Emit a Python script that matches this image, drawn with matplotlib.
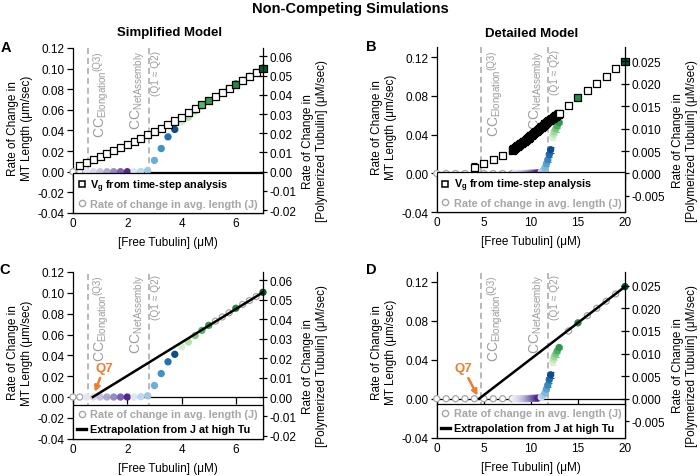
import matplotlib.pyplot as plt
from matplotlib.lines import Line2D
from matplotlib.ticker import FormatStrFormatter

plt.rcParams['font.family'] = ['Liberation Sans', 'DejaVu Sans']
plt.rcParams['mathtext.fontset'] = 'custom'
plt.rcParams['mathtext.rm'] = 'Liberation Sans'
plt.rcParams['mathtext.it'] = 'Liberation Sans:italic'
plt.rcParams['mathtext.bf'] = 'Liberation Sans:bold'
plt.rcParams['axes.linewidth'] = 0.9

# ---------------- simplified model (panels A and C) ----------------
simp_vg_tu = [0.25, 0.5, 0.75, 1.0, 1.25, 1.5, 1.75, 2.0, 2.25, 2.5, 2.75, 3.0, 3.25, 3.5,
              3.75, 4.0, 4.25, 4.5, 4.75, 5.0, 5.25, 5.5, 5.75, 6.0, 6.25, 6.5, 6.75, 7.0]
simp_vg = [0.0060, 0.0088, 0.0116, 0.0145, 0.0174, 0.0203, 0.0233, 0.0263, 0.0294, 0.0325,
           0.0357, 0.0390, 0.0423, 0.0457, 0.0492, 0.0530, 0.0570, 0.0610, 0.0650, 0.0690,
           0.0730, 0.0770, 0.0810, 0.0850, 0.0888, 0.0926, 0.0965, 0.1005]
simp_j_tu = [0.0, 0.25, 0.5, 0.75, 1.0, 1.25, 1.5, 1.75, 2.0, 2.25, 2.5, 2.75, 3.0, 3.25, 3.5,
             3.75, 4.0, 4.25, 4.5, 4.75, 5.0, 5.25, 5.5, 5.75, 6.0, 6.25, 6.5, 6.75, 7.0]
simp_j = [0.0, 0.0, 0.0, 0.0, 0.0, 0.0, 0.0, 0.0, 0.0, 0.0, 0.0003, 0.0012, 0.0110, 0.0225,
          0.0338, 0.0410, 0.0482, 0.0528, 0.0590, 0.0640, 0.0688, 0.0728, 0.0768, 0.0808,
          0.0852, 0.0888, 0.0926, 0.0964, 0.1005]
simp_cc = [0.55, 2.8]          # CC elongation (Q3), CC net assembly (Q1 = Q2)
simp_ext_tu = [0.73, 7.0]      # extrapolation from J at high tubulin
simp_ext = [0.0, 0.1005]
simp_q7 = 0.73

# ---------------- detailed model (panels B and D) ----------------
det_vg_tu = [4, 5, 6, 7,
             8.0, 8.1, 8.2, 8.3, 8.4, 8.5, 8.6, 8.7, 8.8, 8.9,
             9.0, 9.1, 9.2, 9.3, 9.4, 9.5, 9.6, 9.7, 9.8, 9.9,
             10.0, 10.1, 10.2, 10.3, 10.4, 10.5, 10.6, 10.7, 10.8, 10.9,
             11.0, 11.1, 11.2, 11.3, 11.4, 11.5, 11.6, 11.7, 11.8, 11.9,
             12.0, 12.1, 12.2, 12.3, 12.4, 12.5, 12.6, 12.7, 12.8, 12.9,
             13.0, 14, 15, 16, 17, 18, 19, 20]
det_vg = [0.0065, 0.0100, 0.0140, 0.0185,
          0.0240, 0.0247, 0.0254, 0.0261, 0.0268, 0.0275, 0.0283, 0.0290, 0.0297, 0.0305,
          0.0312, 0.0319, 0.0327, 0.0334, 0.0342, 0.0349, 0.0357, 0.0364, 0.0372, 0.0379,
          0.0387, 0.0395, 0.0403, 0.0412, 0.0420, 0.0428, 0.0437, 0.0445, 0.0454, 0.0462,
          0.0471, 0.0479, 0.0487, 0.0495, 0.0503, 0.0511, 0.0519, 0.0527, 0.0534, 0.0542,
          0.0550, 0.0557, 0.0564, 0.0571, 0.0578, 0.0585, 0.0592, 0.0599, 0.0606, 0.0613,
          0.0620, 0.0700, 0.0780, 0.0855, 0.0930, 0.1003, 0.1078, 0.1150]
det_vg_err_tu = [4, 5, 6, 7]
det_vg_err = [0.0040, 0.0020, 0.0012, 0.0010]
det_j_tu = [0, 1, 2, 3, 4, 5, 6, 7, 8, 8.25, 8.5, 8.75, 9.0, 9.25, 9.5, 9.75, 10.0, 10.25,
            10.5, 10.75, 11.1, 11.3, 11.5, 11.65, 11.8, 11.95, 12.1, 12.3, 12.4, 12.5, 12.65,
            12.8, 13.0, 14, 15, 16, 17, 18, 19, 20]
det_j = [0.0, 0.0, 0.0, 0.0, 0.0, 0.0, 0.0, 0.0, 0.0, 0.0, 0.0, 0.0, 0.0, 0.0, 0.0, 0.0002,
         0.0003, 0.0004, 0.0005, 0.0006, 0.0015, 0.0030, 0.0060, 0.0100, 0.0140, 0.0195,
         0.0245, 0.0380, 0.0405, 0.0430, 0.0460, 0.0490, 0.0525, 0.0695, 0.0778, 0.0852,
         0.0928, 0.1000, 0.1075, 0.1150]
det_j_err_tu = [9.0, 9.5, 11.5, 11.65, 11.8, 11.95, 12.1, 12.3, 12.4, 12.5, 12.65, 12.8, 13.0]
det_j_err = [0.0025, 0.0025, 0.0020, 0.0020, 0.0025, 0.0030, 0.0030, 0.0030, 0.0040, 0.0030,
             0.0030, 0.0020, 0.0020]
det_cc = [4.75, 11.85]
det_ext_tu = [4.5, 20.0]
det_ext = [0.0, 0.1150]
det_q7 = 4.5

# ---------------- axis ticks ----------------
simp_xticks = [0, 2, 4, 6]
det_xticks = [0, 5, 10, 15, 20]
simp_yticks = [-0.04, -0.02, 0.0, 0.02, 0.04, 0.06, 0.08, 0.10, 0.12]
simp_rticks = [-0.02, -0.01, 0.0, 0.01, 0.02, 0.03, 0.04, 0.05, 0.06]
det_yticks = [-0.04, 0.0, 0.04, 0.08, 0.12]
det_rticks = [-0.005, 0.0, 0.005, 0.010, 0.015, 0.020, 0.025]

# ---------------- styles ----------------
GRAY = '#a6a6a6'
CCGRAY = '#9c9c9c'
ORANGE = '#ed7d31'
OPEN = 'open'
purples7 = ['#e6e5f1', '#d9d8ea', '#c5c3e0', '#aea9d2', '#958bc2', '#7a62ac', '#57288c']
blues7 = ['#dae8f5', '#bfd8ed', '#9ecae1', '#6caed6', '#4292c6', '#2270b4', '#0b4e8e']
greens5 = ['#d6eecf', '#b8e0ae', '#86cb82', '#57b567', '#35994f']
purples11 = ['#efeef6', '#e6e5f1', '#dcdbec', '#d0cfe5', '#c2c0dd', '#b1add4', '#9f98c8',
             '#8b7fbb', '#7763ab', '#64449d', '#54278f']
blues7b = ['#cfe1f2', '#a9cfe5', '#80b9da', '#5aa1cf', '#3a87bf', '#1f6aad', '#0b4e8e']
greens6 = ['#d8efd2', '#c0e5b8', '#a1d79a', '#79c57a', '#4daf61', '#2f974e']
G_MID = '#238b45'
G_DARK = '#005a2c'

simp_j_colors = ([OPEN] * 2 + purples7 + blues7 + greens5 + [OPEN] * 3 + [G_MID]
                 + [OPEN] * 3 + [G_DARK])
det_j_colors = ([OPEN] * 9 + purples11 + blues7b + greens6 + [OPEN, G_MID]
                + [OPEN] * 4 + [G_DARK])
simp_vg_fill = {4.75: '#57b567', 5.0: '#35994f', 6.0: G_MID, 7.0: G_DARK}
det_vg_fill = {15: G_MID, 20: G_DARK}

fig = plt.figure(figsize=(7, 4.77), dpi=100)


def make_panel(rect, xmax, xticks, ylim, yticks, yfmt, ratio, rticks, rfmt, rlab_x):
    ax = fig.add_axes(rect)
    ax.set_xlim(0, xmax)
    ax.set_ylim(ylim)
    ax.set_xticks(xticks)
    ax.set_yticks(yticks)
    ax.yaxis.set_major_formatter(FormatStrFormatter(yfmt))
    ax.spines['top'].set_visible(False)
    ax.spines['right'].set_visible(False)
    ax.spines['bottom'].set_position(('data', 0))
    ax.tick_params(axis='x', direction='out', length=5, width=0.9, labelbottom=False)
    ax.tick_params(axis='y', direction='out', length=4, width=0.9, labelsize=8.5, pad=2)
    ax.set_ylabel('Rate of Change in\nMT Length (μm/sec)', fontsize=8.5)
    ax.yaxis.set_label_coords(-0.21, 0.52)

    ax2 = ax.twinx()
    ax2.set_ylim(ylim[0] * ratio, ylim[1] * ratio)
    ax2.set_yticks(rticks)
    ax2.yaxis.set_major_formatter(FormatStrFormatter(rfmt))
    ax2.spines['top'].set_visible(False)
    ax2.spines['left'].set_visible(False)
    ax2.tick_params(axis='y', direction='inout', length=6, width=0.9, labelsize=8.5, pad=2)
    ax2.set_ylabel('Rate of Change in\n[Polymerized Tubulin] (μM/sec)', fontsize=8.5)
    ax2.yaxis.set_label_coords(rlab_x, 0.44)
    ax2.xaxis.set_visible(True)
    ax2.tick_params(axis='x', length=0, labelbottom=True, labelsize=8.5, pad=3)
    ax2.set_xlabel('[Free Tubulin] (μM)', fontsize=8.5, labelpad=5)
    return ax, ax2


def draw_j(ax, tu, val, colors):
    faces = ['white' if c == OPEN else c for c in colors]
    edges = [GRAY if c == OPEN else c for c in colors]
    ax.scatter(tu, val, s=19, c=faces, edgecolors=edges, linewidths=0.9,
               zorder=3, clip_on=False)


def draw_vg(ax, tu, val, fill):
    faces = [fill.get(t, 'white') for t in tu]
    ax.scatter(tu, val, marker='s', s=26, c=faces, edgecolors='black',
               linewidths=0.9, zorder=4, clip_on=False)


def cc_lines(ax, xs):
    x_el, x_net = xs
    for x in xs:
        ax.axvline(x, color=GRAY, ls=(0, (4, 2.5)), lw=1.1, zorder=1)
    q3 = ax.annotate('(Q3)', xy=(x_el, 1), xycoords=('data', 'axes fraction'),
                     xytext=(3.5, -1.5), textcoords='offset points', rotation=90,
                     ha='left', va='top', fontsize=7, color=CCGRAY)
    ax.annotate(r'CC$_{\mathrm{Elongation}}$', xy=(0, 0), xycoords=q3,
                xytext=(0, 0), textcoords='offset points', rotation=90,
                ha='left', va='top', fontsize=10, color=CCGRAY)
    ax.annotate(r'CC$_{\mathrm{NetAssembly}}$', xy=(x_net, 1),
                xycoords=('data', 'axes fraction'), xytext=(-1.5, -1.5),
                textcoords='offset points', rotation=90, ha='right', va='top',
                fontsize=10, color=CCGRAY)
    ax.annotate('(Q1 ≈ Q2)', xy=(x_net, 1), xycoords=('data', 'axes fraction'),
                xytext=(1.5, -1.5), textcoords='offset points', rotation=90,
                ha='left', va='top', fontsize=7.3, color=CCGRAY)


def add_legend(ax2, handles, labels, colors):
    leg = ax2.legend(handles, labels, loc='lower left', bbox_to_anchor=(0, 0, 1, 0.2),
                     mode='expand', borderaxespad=0, fancybox=False, edgecolor='black',
                     framealpha=1, prop={'size': 7.8, 'weight': 'bold'},
                     handlelength=0.8, handletextpad=0.35, borderpad=0.4,
                     labelspacing=0.45)
    leg.get_frame().set_linewidth(0.9)
    for t, c in zip(leg.get_texts(), colors):
        t.set_color(c)


def q7_arrow(ax, x, offset, shrink):
    ax.annotate('Q7', xy=(x, 0), xytext=offset, textcoords='offset points',
                ha='center', va='center', fontsize=9.5, weight='bold', color=ORANGE,
                arrowprops=dict(arrowstyle='-|>', color=ORANGE, lw=1.8,
                                mutation_scale=8, shrinkA=1, shrinkB=shrink),
                zorder=6)


h_vg = Line2D([], [], ls='none', marker='s', ms=4.5, mfc='none', mec='black', mew=1.1)
h_j = Line2D([], [], ls='none', marker='o', ms=4.5, mfc='white', mec=GRAY, mew=1.0)
h_ext = Line2D([], [], color='black', lw=2.4)
lab_vg = r'$\mathbf{V_g}$ from time-step analysis'
lab_j = 'Rate of change in avg. length (J)'
lab_ext = 'Extrapolation from J at high Tu'

simp_ratio = 0.536
det_ratio = 0.2158

# A
ax, ax2 = make_panel([0.1043, 0.5514, 0.2714, 0.3459], 7, simp_xticks, (-0.04, 0.12),
                     simp_yticks, '%.2f', simp_ratio, simp_rticks, '%.2f', 1.205)
cc_lines(ax, simp_cc)
draw_j(ax, simp_j_tu, simp_j, simp_j_colors)
draw_vg(ax, simp_vg_tu, simp_vg, simp_vg_fill)
add_legend(ax2, [h_vg, h_j], [lab_vg, lab_j], ['black', GRAY])

# B
ax, ax2 = make_panel([0.6239, 0.5528, 0.2690, 0.3459], 20, det_xticks, (-0.04, 0.13),
                     det_yticks, '%.2f', det_ratio, det_rticks, '%.3f', 1.25)
cc_lines(ax, det_cc)
for t, e in zip(det_j_err_tu, det_j_err):
    i = det_j_tu.index(t)
    c = det_j_colors[i]
    ax.errorbar(t, det_j[i], yerr=e, fmt='none', ecolor=GRAY if t < 11 else c,
                elinewidth=0.8, capsize=2, capthick=0.8, zorder=2.5)
draw_j(ax, det_j_tu, det_j, det_j_colors)
for t, e in zip(det_vg_err_tu, det_vg_err):
    ax.errorbar(t, det_vg[det_vg_tu.index(t)], yerr=e, fmt='none', ecolor='black',
                elinewidth=0.8, capsize=2, capthick=0.8, zorder=3.5)
draw_vg(ax, det_vg_tu, det_vg, det_vg_fill)
add_legend(ax2, [h_vg, h_j], [lab_vg, lab_j], ['black', GRAY])

# C
ax, ax2 = make_panel([0.1043, 0.0782, 0.2714, 0.3495], 7, simp_xticks, (-0.04, 0.12),
                     simp_yticks, '%.2f', simp_ratio, simp_rticks, '%.2f', 1.205)
cc_lines(ax, simp_cc)
draw_j(ax, simp_j_tu, simp_j, simp_j_colors)
ax.plot(simp_ext_tu, simp_ext, color='black', lw=1.8, zorder=5)
q7_arrow(ax, simp_q7, (8, 21), 4)
add_legend(ax2, [h_j, h_ext], [lab_j, lab_ext], [GRAY, 'black'])

# D
ax, ax2 = make_panel([0.6239, 0.0803, 0.2690, 0.3474], 20, det_xticks, (-0.04, 0.13),
                     det_yticks, '%.2f', det_ratio, det_rticks, '%.3f', 1.25)
cc_lines(ax, det_cc)
for t, e in zip(det_j_err_tu, det_j_err):
    i = det_j_tu.index(t)
    c = det_j_colors[i]
    ax.errorbar(t, det_j[i], yerr=e, fmt='none', ecolor=GRAY if t < 11 else c,
                elinewidth=0.8, capsize=2, capthick=0.8, zorder=2.5)
draw_j(ax, det_j_tu, det_j, det_j_colors)
ax.plot(det_ext_tu, det_ext, color='black', lw=1.8, zorder=5)
q7_arrow(ax, det_q7, (-11.5, 22), 2.5)
add_legend(ax2, [h_j, h_ext], [lab_j, lab_ext], [GRAY, 'black'])

fig.text(0.5, 0.981, 'Non-Competing Simulations', ha='center', va='center',
         fontsize=10.5, weight='bold')
fig.text(0.242, 0.931, 'Simplified Model', ha='center', va='center', fontsize=9.5,
         weight='bold')
fig.text(0.760, 0.929, 'Detailed Model', ha='center', va='center', fontsize=9.5,
         weight='bold')
for lbl, x, y in [('A', 0.009, 0.899), ('B', 0.530, 0.901), ('C', 0.007, 0.434),
                  ('D', 0.531, 0.433)]:
    fig.text(x, y, lbl, ha='center', va='center', fontsize=10.5, weight='bold')

fig.savefig('out.png', dpi=100)
